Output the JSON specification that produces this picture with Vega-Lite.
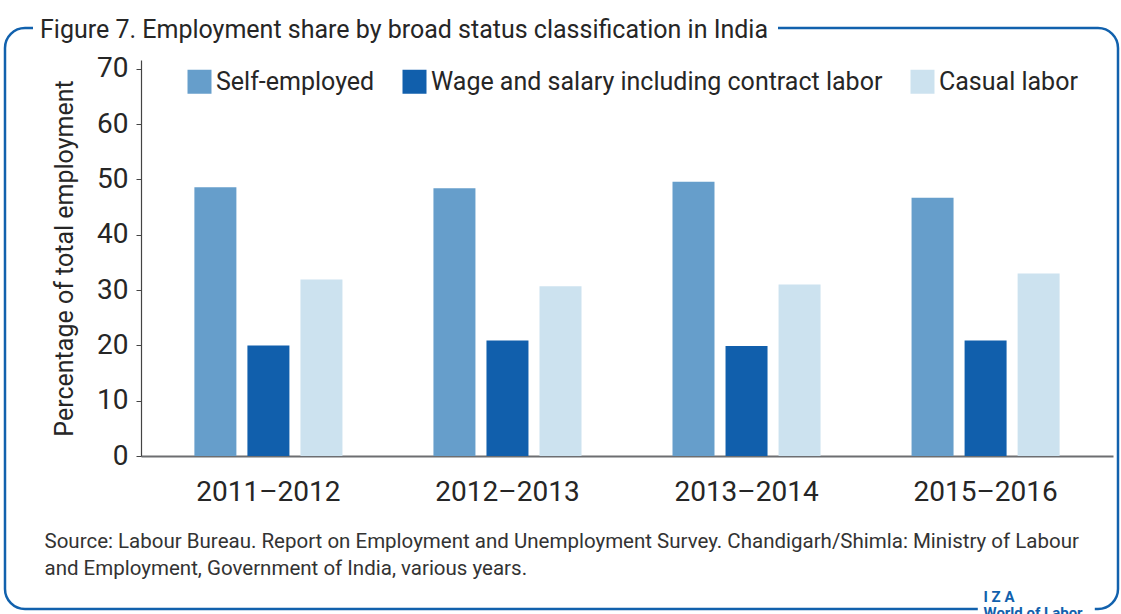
{
  "$schema": "https://vega.github.io/schema/vega-lite/v6.json",
  "width": 1113,
  "height": 581,
  "autosize": {"type": "none"},
  "padding": {"left": 5, "top": 28, "right": 3, "bottom": 5},
  "background": "white",
  "title": {
    "text": "Figure 7. Employment share by broad status classification in India",
    "anchor": "start",
    "frame": "group",
    "font": "Roboto",
    "fontSize": 25,
    "fontWeight": "normal",
    "color": "#262626",
    "dx": 35,
    "dy": 27,
    "offset": -8,
    "baseline": "alphabetic"
  },
  "data": {
    "values": [
      {"period": "2011–2012", "category": "Self-employed", "value": 48.6},
      {"period": "2011–2012", "category": "Wage and salary including contract labor", "value": 20.0},
      {"period": "2011–2012", "category": "Casual labor", "value": 31.9},
      {"period": "2012–2013", "category": "Self-employed", "value": 48.4},
      {"period": "2012–2013", "category": "Wage and salary including contract labor", "value": 20.9},
      {"period": "2012–2013", "category": "Casual labor", "value": 30.7},
      {"period": "2013–2014", "category": "Self-employed", "value": 49.6},
      {"period": "2013–2014", "category": "Wage and salary including contract labor", "value": 19.9},
      {"period": "2013–2014", "category": "Casual labor", "value": 31.0},
      {"period": "2015–2016", "category": "Self-employed", "value": 46.7},
      {"period": "2015–2016", "category": "Wage and salary including contract labor", "value": 20.9},
      {"period": "2015–2016", "category": "Casual labor", "value": 33.0}
    ]
  },
  "layer": [
    {
      "mark": {"type": "bar"},
      "encoding": {
        "x": {
          "field": "period",
          "type": "nominal",
          "sort": null,
          "scale": {"range": [136, 1108], "paddingInner": 0, "paddingOuter": 0.033},
          "axis": {
            "offset": -153,
            "ticks": false,
            "tickSize": 0,
            "domainColor": "#6d6e71",
            "domainWidth": 2,
            "labelAngle": 0,
            "labelFont": "Roboto",
            "labelFontSize": 28,
            "labelColor": "#262626",
            "labelPadding": 22,
            "title": [
              "Source: Labour Bureau. Report on Employment and Unemployment Survey. Chandigarh/Shimla: Ministry of Labour",
              "and Employment, Government of India, various years."
            ],
            "titleX": 39,
            "titleY": 91,
            "titleAnchor": "start",
            "titleAlign": "left",
            "titleBaseline": "alphabetic",
            "titleFont": "Roboto",
            "titleFontSize": 20.5,
            "titleFontWeight": "normal",
            "titleColor": "#333333",
            "titleLineHeight": 27
          }
        },
        "xOffset": {
          "field": "category",
          "sort": ["Self-employed", "Wage and salary including contract labor", "Casual labor"],
          "scale": {"paddingInner": 0.208, "paddingOuter": 0.858}
        },
        "y": {
          "field": "value",
          "type": "quantitative",
          "scale": {"domain": [0, 71.6], "range": [428, 32], "nice": false, "zero": true},
          "axis": {
            "offset": -136,
            "values": [0, 10, 20, 30, 40, 50, 60, 70],
            "grid": false,
            "tickSize": 5,
            "tickColor": "#444444",
            "domainColor": "#444444",
            "domainWidth": 1.2,
            "labelFont": "Roboto",
            "labelFontSize": 28,
            "labelColor": "#262626",
            "labelPadding": 8,
            "title": "Percentage of total employment",
            "titleFont": "Roboto",
            "titleFontSize": 25,
            "titleFontWeight": "normal",
            "titleColor": "#262626",
            "titlePadding": 19
          }
        },
        "color": {
          "field": "category",
          "type": "nominal",
          "sort": ["Self-employed", "Wage and salary including contract labor", "Casual labor"],
          "scale": {
            "domain": ["Self-employed", "Wage and salary including contract labor", "Casual labor"],
            "range": ["#669ecb", "#115fac", "#cce2ef"]
          },
          "legend": {
            "orient": "none",
            "legendX": 182,
            "legendY": 41,
            "direction": "horizontal",
            "columns": 3,
            "title": null,
            "symbolType": "square",
            "symbolSize": 576,
            "symbolStrokeWidth": 0,
            "symbolOpacity": 1,
            "labelFont": "Roboto",
            "labelFontSize": 25,
            "labelColor": "#262626",
            "labelOffset": 4,
            "labelLimit": 0,
            "columnPadding": 27,
            "padding": 0
          }
        }
      }
    },
    {
      "mark": {"type": "rule", "opacity": 0},
      "encoding": {
        "y": {
          "datum": 0,
          "type": "quantitative",
          "scale": {"domain": [0, 1]},
          "axis": {
            "orient": "right",
            "labels": false,
            "ticks": false,
            "domain": false,
            "grid": false,
            "title": ["I Z A", "World of Labor"],
            "titleAngle": 0,
            "titleX": -135,
            "titleY": 573,
            "titleAlign": "left",
            "titleBaseline": "alphabetic",
            "titleFont": "Roboto",
            "titleFontSize": 15,
            "titleFontWeight": "bold",
            "titleColor": "#1161ad",
            "titleLineHeight": 16
          }
        }
      }
    }
  ],
  "resolve": {"scale": {"y": "independent"}, "axis": {"y": "independent"}},
  "config": {
    "font": "Roboto",
    "view": {
      "stroke": "#1161ad",
      "strokeWidth": 2.5,
      "cornerRadius": 20,
      "strokeDash": [8, 745, 926.8, 117, 1556.8, 100]
    }
  }
}
